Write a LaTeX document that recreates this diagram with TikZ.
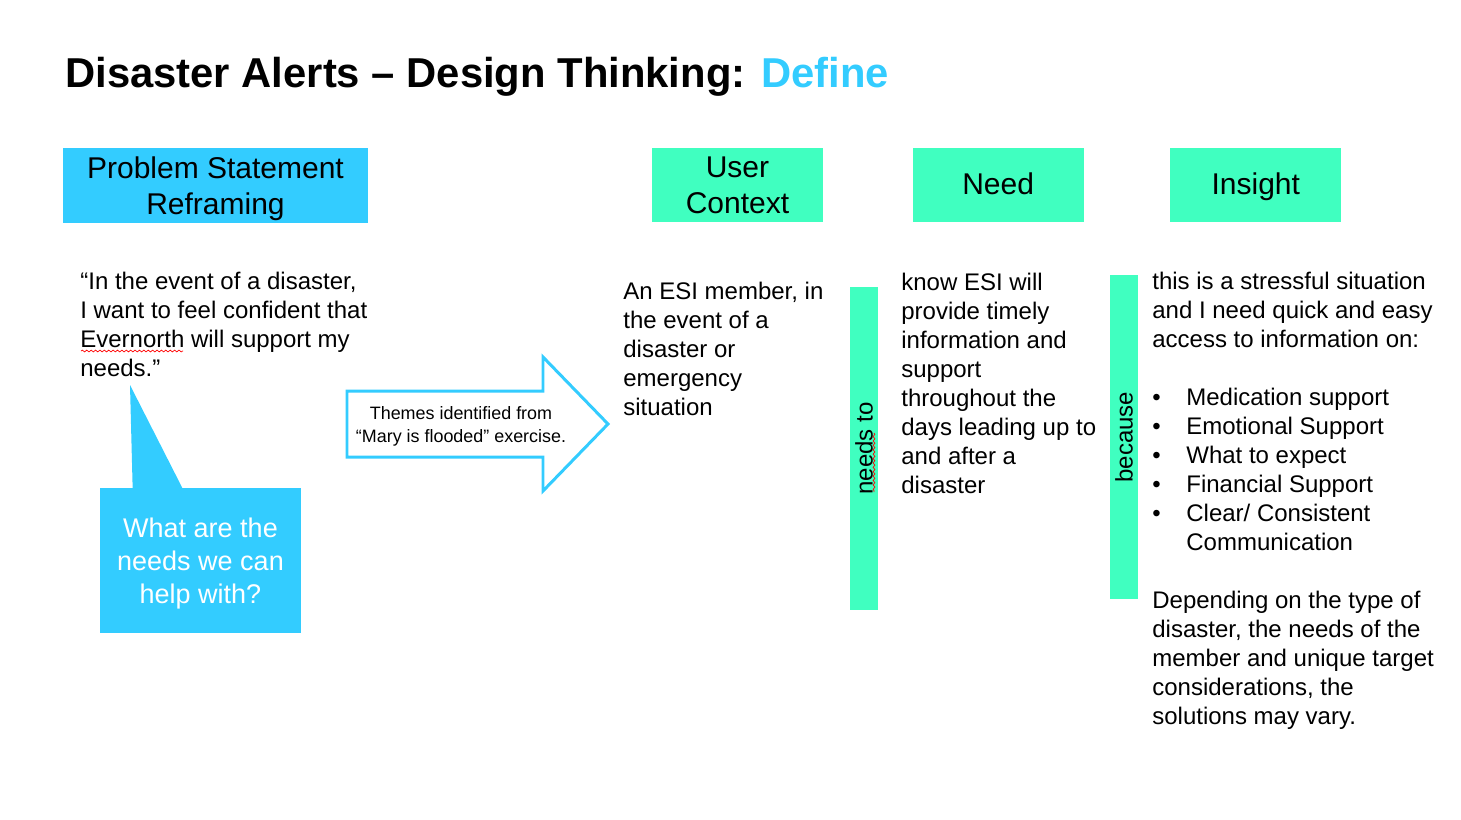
\documentclass[tikz,border=0pt]{standalone}
\usepackage{fontspec}
\setmainfont{Liberation Sans}
\usetikzlibrary{positioning, decorations.pathmorphing}
\definecolor{HeadSky}{RGB}{51,204,255}
\definecolor{HeadMint}{RGB}{64,255,192}

\begin{document}
\begin{tikzpicture}[x=0.02cm, y=-0.02cm]

\tikzset{
head/.style args={#1}{
fill=#1,
minimum width=3.42cm,
minimum height=1.48cm,
inner sep=0pt,
text depth=0pt,
align=center,
font=\fontsize{17.07pt}{20.49pt}\selectfont
},
body/.style={
anchor=north west,
inner sep=0pt,
align=left,
font=\fontsize{13.66pt}{16.5pt}\selectfont
},
bar/.style={
fill=HeadMint,
rotate=90,
minimum width=6.46cm,
minimum height=0.56cm,
inner sep=0pt,
font=\fontsize{13.66pt}{16.5pt}\selectfont
},
typo/.style={
red, line width=0.4pt,
decorate, decoration={snake, amplitude=0.5pt, segment length=2.5pt}
}
}

\useasboundingbox (0,0) rectangle (1461,819);

\node[anchor=base west, inner sep=0pt,
font=\bfseries\fontsize{23.78pt}{28pt}\selectfont] (title)
at (65,87) {Disaster Alerts – Design Thinking: \textcolor{HeadSky}{Define}};

\node[head=HeadSky, minimum width=6.1cm, minimum height=1.5cm] (frame)
at (215.5,185.5) {Problem Statement\\Reframing};

\node[head=HeadMint] (ctx)
at (737.5,185) {User\\Context};

\node[head=HeadMint, text height=12.3pt, text depth=1.7pt,
right=1.78cm of ctx] (need)
{Need};

\node[head=HeadMint, text height=12.3pt, text depth=1.7pt,
right=1.72cm of need] (insight)
{Insight};

\node[body] (quote) at (80,272)
{“In the event of a disaster,\\I want to feel confident that\\Evernorth will support my\\needs.”};

\node[fill=HeadSky, minimum width=4.02cm, minimum height=2.9cm,
inner sep=0pt, text depth=0pt, align=center, text=white,
font=\fontsize{15.37pt}{18.78pt}\selectfont] (ask)
at (200.5,560.5) {What are the\\needs we can\\help with?};

\coordinate (tip) at (130,385);
\fill[HeadSky] ([xshift=0.66cm, yshift=-0.5pt]ask.north west) -- (tip)
-- ([xshift=1.66cm, yshift=-0.5pt]ask.north west) -- cycle;

\draw[HeadSky, line width=1.7pt, fill=white, line join=miter]
(347,391) -- (543,391) -- (543,357) -- (608,424) -- (543,491) -- (543,457) -- (347,457) -- cycle;

\node[align=center, inner sep=0pt,
font=\fontsize{10.2pt}{13.09pt}\selectfont] (themes)
at (461,426) {Themes identified from\\“Mary is flooded” exercise.};

\node[body] (who) at (623,282)
{An ESI member, in\\the event of a\\disaster or\\emergency\\situation};

\node[bar] (needsto) at (864,448.5) {needs to};
\node[bar, minimum width=6.48cm] (because) at (1124,437) {because};

\node[body] (want) at (901,273)
{know ESI will\\provide timely\\information and\\support\\throughout the\\days leading up to\\and after a\\disaster};

\node[body] (why) at (1152,272)
{this is a stressful situation\\and I need quick and easy\\access to information on:\\[0.58cm]
\makebox[0.68cm][l]{•}Medication support\\
\makebox[0.68cm][l]{•}Emotional Support\\
\makebox[0.68cm][l]{•}What to expect\\
\makebox[0.68cm][l]{•}Financial Support\\
\makebox[0.68cm][l]{•}Clear/ Consistent\\
\hspace*{0.68cm}Communication\\[0.58cm]
Depending on the type of\\disaster, the needs of the\\member and unique target\\considerations, the\\solutions may vary.};

\draw[typo] (81,351) -- (183,351);
\draw[typo] (874,433) -- (874,492);

\end{tikzpicture}
\end{document}
